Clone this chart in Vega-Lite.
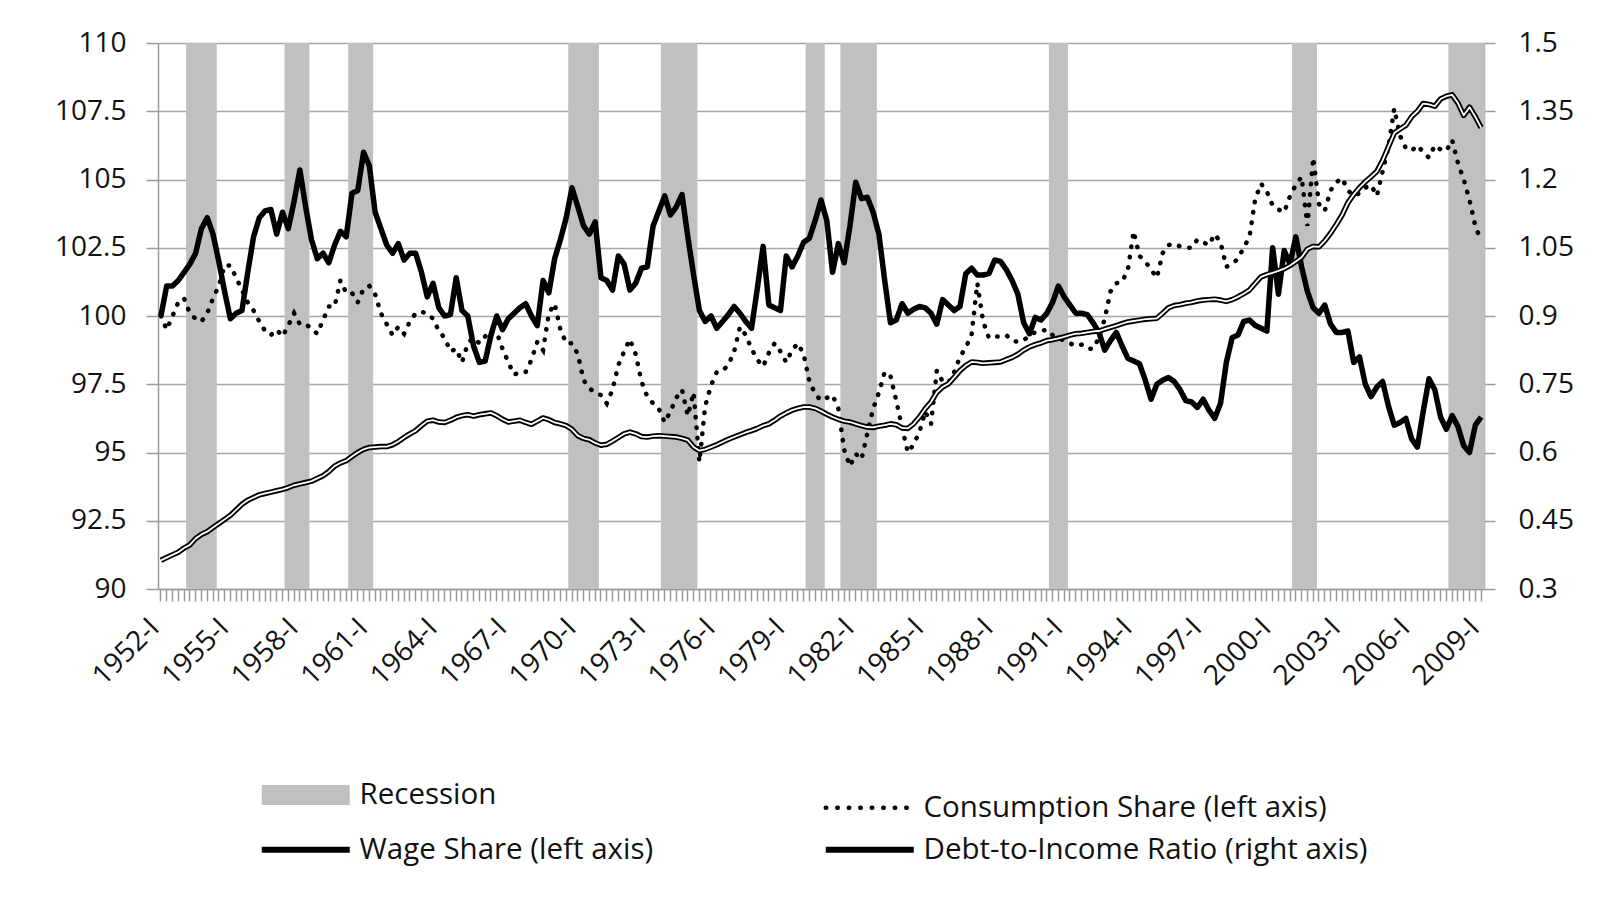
{
  "$schema": "https://vega.github.io/schema/vega-lite/v6.json",
  "width": 1326,
  "height": 546,
  "autosize": {"type": "none"},
  "padding": {"left": 158, "top": 43, "right": 129, "bottom": 311},
  "background": "white",
  "config": {
    "view": {"stroke": null},
    "font": "Open Sans",
    "axis": {"labelFont": "Open Sans", "labelFontSize": 28, "labelColor": "#111111", "domainColor": "#9a9a9a", "tickColor": "#9a9a9a", "gridColor": "#a6a6a6", "domainWidth": 1.5, "tickWidth": 1.5, "gridWidth": 1.5},
    "legend": {"labelFont": "Open Sans", "labelFontSize": 29.5, "labelColor": "#111111"}
  },
  "data": {"values": [
    {"q":"1952-I","w":100.0,"c":100.0,"d":0.363,"r":0},
    {"q":"1952-II","w":101.1,"c":99.5,"d":0.369,"r":0},
    {"q":"1952-III","w":101.1,"c":100.0,"d":0.375,"r":0},
    {"q":"1952-IV","w":101.3,"c":100.5,"d":0.381,"r":0},
    {"q":"1953-I","w":101.6,"c":100.65,"d":0.390,"r":0},
    {"q":"1953-II","w":101.9,"c":100.1,"d":0.397,"r":1},
    {"q":"1953-III","w":102.3,"c":99.9,"d":0.411,"r":1},
    {"q":"1953-IV","w":103.2,"c":99.8,"d":0.420,"r":1},
    {"q":"1954-I","w":103.6,"c":100.1,"d":0.426,"r":1},
    {"q":"1954-II","w":103.0,"c":100.65,"d":0.435,"r":1},
    {"q":"1954-III","w":102.0,"c":101.1,"d":0.444,"r":0},
    {"q":"1954-IV","w":100.9,"c":101.85,"d":0.453,"r":0},
    {"q":"1955-I","w":99.9,"c":101.85,"d":0.462,"r":0},
    {"q":"1955-II","w":100.1,"c":101.4,"d":0.474,"r":0},
    {"q":"1955-III","w":100.2,"c":100.95,"d":0.486,"r":0},
    {"q":"1955-IV","w":101.6,"c":100.5,"d":0.495,"r":0},
    {"q":"1956-I","w":102.9,"c":100.2,"d":0.501,"r":0},
    {"q":"1956-II","w":103.6,"c":99.8,"d":0.507,"r":0},
    {"q":"1956-III","w":103.85,"c":99.45,"d":0.510,"r":0},
    {"q":"1956-IV","w":103.9,"c":99.3,"d":0.513,"r":0},
    {"q":"1957-I","w":103.0,"c":99.5,"d":0.516,"r":0},
    {"q":"1957-II","w":103.8,"c":99.25,"d":0.519,"r":0},
    {"q":"1957-III","w":103.2,"c":99.65,"d":0.523,"r":1},
    {"q":"1957-IV","w":104.2,"c":100.1,"d":0.528,"r":1},
    {"q":"1958-I","w":105.35,"c":99.7,"d":0.531,"r":1},
    {"q":"1958-II","w":104.0,"c":99.7,"d":0.534,"r":1},
    {"q":"1958-III","w":102.8,"c":99.55,"d":0.537,"r":0},
    {"q":"1958-IV","w":102.1,"c":99.35,"d":0.543,"r":0},
    {"q":"1959-I","w":102.3,"c":99.85,"d":0.549,"r":0},
    {"q":"1959-II","w":101.95,"c":100.35,"d":0.558,"r":0},
    {"q":"1959-III","w":102.6,"c":100.35,"d":0.570,"r":0},
    {"q":"1959-IV","w":103.1,"c":101.3,"d":0.577,"r":0},
    {"q":"1960-I","w":102.9,"c":100.85,"d":0.582,"r":0},
    {"q":"1960-II","w":104.5,"c":100.85,"d":0.591,"r":1},
    {"q":"1960-III","w":104.6,"c":100.5,"d":0.600,"r":1},
    {"q":"1960-IV","w":106.0,"c":101.0,"d":0.607,"r":1},
    {"q":"1961-I","w":105.5,"c":101.1,"d":0.611,"r":1},
    {"q":"1961-II","w":103.8,"c":100.8,"d":0.612,"r":0},
    {"q":"1961-III","w":103.2,"c":100.1,"d":0.613,"r":0},
    {"q":"1961-IV","w":102.6,"c":99.7,"d":0.613,"r":0},
    {"q":"1962-I","w":102.3,"c":99.3,"d":0.617,"r":0},
    {"q":"1962-II","w":102.65,"c":99.6,"d":0.624,"r":0},
    {"q":"1962-III","w":102.05,"c":99.35,"d":0.633,"r":0},
    {"q":"1962-IV","w":102.3,"c":99.8,"d":0.641,"r":0},
    {"q":"1963-I","w":102.3,"c":100.1,"d":0.648,"r":0},
    {"q":"1963-II","w":101.6,"c":100.15,"d":0.659,"r":0},
    {"q":"1963-III","w":100.7,"c":100.1,"d":0.669,"r":0},
    {"q":"1963-IV","w":101.2,"c":99.9,"d":0.671,"r":0},
    {"q":"1964-I","w":100.3,"c":99.45,"d":0.667,"r":0},
    {"q":"1964-II","w":100.0,"c":99.2,"d":0.666,"r":0},
    {"q":"1964-III","w":100.05,"c":98.7,"d":0.671,"r":0},
    {"q":"1964-IV","w":101.4,"c":98.8,"d":0.677,"r":0},
    {"q":"1965-I","w":100.2,"c":98.3,"d":0.681,"r":0},
    {"q":"1965-II","w":100.0,"c":99.0,"d":0.683,"r":0},
    {"q":"1965-III","w":98.9,"c":99.2,"d":0.680,"r":0},
    {"q":"1965-IV","w":98.3,"c":99.0,"d":0.683,"r":0},
    {"q":"1966-I","w":98.35,"c":99.25,"d":0.685,"r":0},
    {"q":"1966-II","w":99.3,"c":99.5,"d":0.687,"r":0},
    {"q":"1966-III","w":100.0,"c":99.4,"d":0.681,"r":0},
    {"q":"1966-IV","w":99.5,"c":98.8,"d":0.673,"r":0},
    {"q":"1967-I","w":99.9,"c":98.3,"d":0.667,"r":0},
    {"q":"1967-II","w":100.1,"c":97.85,"d":0.669,"r":0},
    {"q":"1967-III","w":100.3,"c":97.95,"d":0.671,"r":0},
    {"q":"1967-IV","w":100.45,"c":97.95,"d":0.666,"r":0},
    {"q":"1968-I","w":100.0,"c":98.4,"d":0.662,"r":0},
    {"q":"1968-II","w":99.65,"c":99.05,"d":0.669,"r":0},
    {"q":"1968-III","w":101.3,"c":98.75,"d":0.676,"r":0},
    {"q":"1968-IV","w":100.85,"c":100.1,"d":0.672,"r":0},
    {"q":"1969-I","w":102.1,"c":100.45,"d":0.666,"r":0},
    {"q":"1969-II","w":102.8,"c":99.5,"d":0.663,"r":0},
    {"q":"1969-III","w":103.6,"c":99.0,"d":0.659,"r":0},
    {"q":"1969-IV","w":104.7,"c":99.0,"d":0.651,"r":1},
    {"q":"1970-I","w":104.0,"c":98.6,"d":0.637,"r":1},
    {"q":"1970-II","w":103.3,"c":97.65,"d":0.631,"r":1},
    {"q":"1970-III","w":103.0,"c":97.35,"d":0.628,"r":1},
    {"q":"1970-IV","w":103.45,"c":97.2,"d":0.621,"r":1},
    {"q":"1971-I","w":101.4,"c":97.1,"d":0.616,"r":0},
    {"q":"1971-II","w":101.3,"c":96.8,"d":0.618,"r":0},
    {"q":"1971-III","w":100.95,"c":97.3,"d":0.625,"r":0},
    {"q":"1971-IV","w":102.2,"c":98.2,"d":0.633,"r":0},
    {"q":"1972-I","w":101.9,"c":98.7,"d":0.641,"r":0},
    {"q":"1972-II","w":100.95,"c":99.15,"d":0.645,"r":0},
    {"q":"1972-III","w":101.2,"c":98.6,"d":0.641,"r":0},
    {"q":"1972-IV","w":101.75,"c":97.6,"d":0.635,"r":0},
    {"q":"1973-I","w":101.8,"c":97.05,"d":0.634,"r":0},
    {"q":"1973-II","w":103.3,"c":96.8,"d":0.636,"r":0},
    {"q":"1973-III","w":103.85,"c":96.6,"d":0.637,"r":0},
    {"q":"1973-IV","w":104.4,"c":96.1,"d":0.636,"r":1},
    {"q":"1974-I","w":103.7,"c":96.5,"d":0.635,"r":1},
    {"q":"1974-II","w":104.0,"c":97.0,"d":0.634,"r":1},
    {"q":"1974-III","w":104.45,"c":97.3,"d":0.631,"r":1},
    {"q":"1974-IV","w":102.9,"c":96.35,"d":0.627,"r":1},
    {"q":"1975-I","w":101.5,"c":97.2,"d":0.612,"r":1},
    {"q":"1975-II","w":100.2,"c":94.65,"d":0.604,"r":0},
    {"q":"1975-III","w":99.8,"c":96.7,"d":0.607,"r":0},
    {"q":"1975-IV","w":100.0,"c":97.45,"d":0.612,"r":0},
    {"q":"1976-I","w":99.55,"c":97.95,"d":0.617,"r":0},
    {"q":"1976-II","w":99.8,"c":98.0,"d":0.623,"r":0},
    {"q":"1976-III","w":100.05,"c":98.2,"d":0.629,"r":0},
    {"q":"1976-IV","w":100.35,"c":98.7,"d":0.634,"r":0},
    {"q":"1977-I","w":100.1,"c":99.6,"d":0.639,"r":0},
    {"q":"1977-II","w":99.8,"c":99.3,"d":0.644,"r":0},
    {"q":"1977-III","w":99.55,"c":98.8,"d":0.648,"r":0},
    {"q":"1977-IV","w":101.0,"c":98.4,"d":0.653,"r":0},
    {"q":"1978-I","w":102.55,"c":98.15,"d":0.659,"r":0},
    {"q":"1978-II","w":100.4,"c":98.65,"d":0.663,"r":0},
    {"q":"1978-III","w":100.3,"c":99.0,"d":0.671,"r":0},
    {"q":"1978-IV","w":100.2,"c":98.7,"d":0.680,"r":0},
    {"q":"1979-I","w":102.2,"c":98.3,"d":0.687,"r":0},
    {"q":"1979-II","w":101.8,"c":98.75,"d":0.693,"r":0},
    {"q":"1979-III","w":102.2,"c":99.0,"d":0.697,"r":0},
    {"q":"1979-IV","w":102.7,"c":98.6,"d":0.700,"r":0},
    {"q":"1980-I","w":102.85,"c":97.6,"d":0.700,"r":1},
    {"q":"1980-II","w":103.5,"c":97.15,"d":0.697,"r":1},
    {"q":"1980-III","w":104.25,"c":96.9,"d":0.691,"r":1},
    {"q":"1980-IV","w":103.5,"c":97.0,"d":0.684,"r":0},
    {"q":"1981-I","w":101.6,"c":97.1,"d":0.678,"r":0},
    {"q":"1981-II","w":102.65,"c":96.6,"d":0.673,"r":0},
    {"q":"1981-III","w":101.95,"c":95.1,"d":0.669,"r":1},
    {"q":"1981-IV","w":103.3,"c":94.5,"d":0.667,"r":1},
    {"q":"1982-I","w":104.9,"c":94.95,"d":0.663,"r":1},
    {"q":"1982-II","w":104.3,"c":94.75,"d":0.659,"r":1},
    {"q":"1982-III","w":104.35,"c":95.7,"d":0.656,"r":1},
    {"q":"1982-IV","w":103.8,"c":96.6,"d":0.655,"r":1},
    {"q":"1983-I","w":103.0,"c":97.2,"d":0.658,"r":0},
    {"q":"1983-II","w":101.3,"c":97.95,"d":0.660,"r":0},
    {"q":"1983-III","w":99.75,"c":97.8,"d":0.663,"r":0},
    {"q":"1983-IV","w":99.85,"c":96.9,"d":0.661,"r":0},
    {"q":"1984-I","w":100.45,"c":95.9,"d":0.654,"r":0},
    {"q":"1984-II","w":100.1,"c":95.0,"d":0.653,"r":0},
    {"q":"1984-III","w":100.25,"c":95.3,"d":0.663,"r":0},
    {"q":"1984-IV","w":100.35,"c":95.75,"d":0.678,"r":0},
    {"q":"1985-I","w":100.3,"c":96.5,"d":0.696,"r":0},
    {"q":"1985-II","w":100.1,"c":96.05,"d":0.711,"r":0},
    {"q":"1985-III","w":99.7,"c":98.0,"d":0.732,"r":0},
    {"q":"1985-IV","w":100.6,"c":97.6,"d":0.744,"r":0},
    {"q":"1986-I","w":100.4,"c":97.55,"d":0.751,"r":0},
    {"q":"1986-II","w":100.2,"c":97.95,"d":0.765,"r":0},
    {"q":"1986-III","w":100.35,"c":98.5,"d":0.780,"r":0},
    {"q":"1986-IV","w":101.55,"c":98.85,"d":0.791,"r":0},
    {"q":"1987-I","w":101.75,"c":99.3,"d":0.799,"r":0},
    {"q":"1987-II","w":101.5,"c":101.2,"d":0.798,"r":0},
    {"q":"1987-III","w":101.5,"c":99.8,"d":0.796,"r":0},
    {"q":"1987-IV","w":101.55,"c":99.2,"d":0.797,"r":0},
    {"q":"1988-I","w":102.05,"c":99.25,"d":0.798,"r":0},
    {"q":"1988-II","w":102.0,"c":99.25,"d":0.799,"r":0},
    {"q":"1988-III","w":101.7,"c":99.3,"d":0.804,"r":0},
    {"q":"1988-IV","w":101.3,"c":99.1,"d":0.809,"r":0},
    {"q":"1989-I","w":100.8,"c":99.05,"d":0.816,"r":0},
    {"q":"1989-II","w":99.75,"c":99.1,"d":0.825,"r":0},
    {"q":"1989-III","w":99.35,"c":99.3,"d":0.832,"r":0},
    {"q":"1989-IV","w":99.95,"c":99.4,"d":0.837,"r":0},
    {"q":"1990-I","w":99.85,"c":99.45,"d":0.841,"r":0},
    {"q":"1990-II","w":100.1,"c":99.5,"d":0.846,"r":0},
    {"q":"1990-III","w":100.5,"c":99.3,"d":0.848,"r":1},
    {"q":"1990-IV","w":101.1,"c":99.2,"d":0.851,"r":1},
    {"q":"1991-I","w":100.7,"c":99.1,"d":0.854,"r":1},
    {"q":"1991-II","w":100.4,"c":99.0,"d":0.858,"r":0},
    {"q":"1991-III","w":100.1,"c":98.9,"d":0.861,"r":0},
    {"q":"1991-IV","w":100.1,"c":98.95,"d":0.862,"r":0},
    {"q":"1992-I","w":100.05,"c":98.8,"d":0.864,"r":0},
    {"q":"1992-II","w":99.75,"c":98.8,"d":0.866,"r":0},
    {"q":"1992-III","w":99.4,"c":99.2,"d":0.867,"r":0},
    {"q":"1992-IV","w":98.75,"c":99.9,"d":0.871,"r":0},
    {"q":"1993-I","w":99.1,"c":100.9,"d":0.875,"r":0},
    {"q":"1993-II","w":99.4,"c":101.2,"d":0.879,"r":0},
    {"q":"1993-III","w":98.9,"c":101.25,"d":0.883,"r":0},
    {"q":"1993-IV","w":98.45,"c":101.7,"d":0.887,"r":0},
    {"q":"1994-I","w":98.35,"c":103.1,"d":0.889,"r":0},
    {"q":"1994-II","w":98.25,"c":102.2,"d":0.891,"r":0},
    {"q":"1994-III","w":97.65,"c":102.0,"d":0.893,"r":0},
    {"q":"1994-IV","w":96.95,"c":101.7,"d":0.894,"r":0},
    {"q":"1995-I","w":97.5,"c":101.4,"d":0.895,"r":0},
    {"q":"1995-II","w":97.65,"c":102.3,"d":0.906,"r":0},
    {"q":"1995-III","w":97.75,"c":102.6,"d":0.918,"r":0},
    {"q":"1995-IV","w":97.6,"c":102.65,"d":0.923,"r":0},
    {"q":"1996-I","w":97.3,"c":102.55,"d":0.925,"r":0},
    {"q":"1996-II","w":96.9,"c":102.5,"d":0.928,"r":0},
    {"q":"1996-III","w":96.85,"c":102.5,"d":0.930,"r":0},
    {"q":"1996-IV","w":96.65,"c":102.8,"d":0.933,"r":0},
    {"q":"1997-I","w":96.95,"c":102.7,"d":0.935,"r":0},
    {"q":"1997-II","w":96.55,"c":102.6,"d":0.936,"r":0},
    {"q":"1997-III","w":96.25,"c":103.0,"d":0.937,"r":0},
    {"q":"1997-IV","w":96.8,"c":102.7,"d":0.935,"r":0},
    {"q":"1998-I","w":98.3,"c":101.8,"d":0.932,"r":0},
    {"q":"1998-II","w":99.2,"c":101.9,"d":0.936,"r":0},
    {"q":"1998-III","w":99.3,"c":102.1,"d":0.942,"r":0},
    {"q":"1998-IV","w":99.8,"c":102.5,"d":0.949,"r":0},
    {"q":"1999-I","w":99.85,"c":102.9,"d":0.957,"r":0},
    {"q":"1999-II","w":99.65,"c":104.3,"d":0.972,"r":0},
    {"q":"1999-III","w":99.55,"c":104.85,"d":0.986,"r":0},
    {"q":"1999-IV","w":99.45,"c":104.55,"d":0.991,"r":0},
    {"q":"2000-I","w":102.5,"c":104.05,"d":0.995,"r":0},
    {"q":"2000-II","w":100.8,"c":103.9,"d":0.999,"r":0},
    {"q":"2000-III","w":102.4,"c":103.8,"d":1.004,"r":0},
    {"q":"2000-IV","w":101.9,"c":104.4,"d":1.011,"r":0},
    {"q":"2001-I","w":102.9,"c":104.8,"d":1.020,"r":1},
    {"q":"2001-II","w":101.8,"c":105.1,"d":1.029,"r":1},
    {"q":"2001-III","w":100.9,"c":103.3,"d":1.047,"r":1},
    {"q":"2001-IV","w":100.3,"c":105.8,"d":1.053,"r":1},
    {"q":"2002-I","w":100.1,"c":104.1,"d":1.052,"r":0},
    {"q":"2002-II","w":100.4,"c":103.85,"d":1.065,"r":0},
    {"q":"2002-III","w":99.7,"c":104.6,"d":1.082,"r":0},
    {"q":"2002-IV","w":99.4,"c":104.9,"d":1.101,"r":0},
    {"q":"2003-I","w":99.4,"c":105.05,"d":1.122,"r":0},
    {"q":"2003-II","w":99.45,"c":104.6,"d":1.149,"r":0},
    {"q":"2003-III","w":98.3,"c":104.4,"d":1.167,"r":0},
    {"q":"2003-IV","w":98.5,"c":104.5,"d":1.182,"r":0},
    {"q":"2004-I","w":97.5,"c":104.7,"d":1.195,"r":0},
    {"q":"2004-II","w":97.05,"c":104.8,"d":1.206,"r":0},
    {"q":"2004-III","w":97.4,"c":104.4,"d":1.218,"r":0},
    {"q":"2004-IV","w":97.6,"c":105.3,"d":1.242,"r":0},
    {"q":"2005-I","w":96.7,"c":106.2,"d":1.272,"r":0},
    {"q":"2005-II","w":96.0,"c":107.6,"d":1.302,"r":0},
    {"q":"2005-III","w":96.1,"c":106.6,"d":1.311,"r":0},
    {"q":"2005-IV","w":96.25,"c":106.15,"d":1.319,"r":0},
    {"q":"2006-I","w":95.5,"c":106.05,"d":1.338,"r":0},
    {"q":"2006-II","w":95.2,"c":106.25,"d":1.350,"r":0},
    {"q":"2006-III","w":96.5,"c":106.0,"d":1.367,"r":0},
    {"q":"2006-IV","w":97.7,"c":105.8,"d":1.365,"r":0},
    {"q":"2007-I","w":97.3,"c":106.25,"d":1.361,"r":0},
    {"q":"2007-II","w":96.3,"c":106.1,"d":1.377,"r":0},
    {"q":"2007-III","w":95.85,"c":106.05,"d":1.383,"r":0},
    {"q":"2007-IV","w":96.35,"c":106.45,"d":1.386,"r":1},
    {"q":"2008-I","w":95.95,"c":105.6,"d":1.368,"r":1},
    {"q":"2008-II","w":95.25,"c":105.0,"d":1.341,"r":1},
    {"q":"2008-III","w":95.0,"c":104.25,"d":1.359,"r":1},
    {"q":"2008-IV","w":96.0,"c":103.3,"d":1.338,"r":1},
    {"q":"2009-I","w":96.3,"c":102.75,"d":1.314,"r":1}
  ]},
  "layer": [
    {
      "mark": {"type": "bar", "color": "#c0c0c0", "width": {"band": 1.3}},
      "encoding": {
        "x": {"field": "q", "type": "ordinal", "sort": null, "scale": {"type": "band", "paddingInner": 0, "paddingOuter": 0},
              "axis": {"orient": "bottom", "grid": false, "tickSize": 12, "title": null, "labelAngle": -45, "labelAlign": "right", "labelBaseline": "alphabetic", "labelPadding": 28, "labelOverlap": false, "labelBound": false,
                       "labelExpr": "((+slice(datum.value,0,4) - 1952) % 3 == 0 && slice(datum.value,4) == '-I') ? datum.value : ''"}},
        "y": {"field": "r", "type": "quantitative", "scale": {"domain": [0, 1], "nice": false}, "axis": null},
        "color": {"datum": "Recession", "type": "nominal",
          "scale": {"domain": ["Recession", "Wage Share (left axis)", "Consumption Share (left axis)", "Debt-to-Income Ratio (right axis)"], "range": ["#c0c0c0", "#000000", "#000000", "#000000"]},
          "legend": {
            "title": null, "orient": "none", "legendX": 133, "legendY": 737, "columns": 2,
            "columnPadding": 159, "rowPadding": -14, "labelOffset": 39, "symbolType": "stroke", "symbolSize": 7744,
            "labelFontSize": 29.5, "labelLimit": 0,
            "encode": {"symbols": {"update": {
              "stroke": {"signal": "datum.value === 'Recession' ? '#c0c0c0' : '#000000'"},
              "strokeWidth": {"signal": "datum.value === 'Recession' ? 20 : (datum.value === 'Consumption Share (left axis)' ? 4.5 : 6)"},
              "strokeDash": {"signal": "datum.value === 'Consumption Share (left axis)' ? [0.5, 11] : [1, 0]"},
              "strokeCap": {"signal": "datum.value === 'Consumption Share (left axis)' ? 'round' : 'butt'"}
            }}}
          }
        }
      }
    },
    {
      "mark": {"type": "line", "strokeWidth": 4.5, "strokeDash": [0.5, 10], "strokeCap": "round"},
      "encoding": {
        "x": {"field": "q", "type": "ordinal", "sort": null},
        "y": {"field": "c", "type": "quantitative", "scale": {"domain": [90, 110], "nice": false, "zero": false}, "axis": null},
        "color": {"datum": "Consumption Share (left axis)", "type": "nominal"}
      }
    },
    {
      "mark": {"type": "line", "strokeWidth": 5.5, "strokeJoin": "round"},
      "encoding": {
        "x": {"field": "q", "type": "ordinal", "sort": null},
        "y": {"field": "w", "type": "quantitative", "scale": {"domain": [90, 110], "nice": false, "zero": false},
              "axis": {"orient": "left", "values": [90, 92.5, 95, 97.5, 100, 102.5, 105, 107.5, 110], "format": ".1~f", "grid": true, "tickSize": 12, "labelPadding": 20, "title": null}},
        "color": {"datum": "Wage Share (left axis)", "type": "nominal"}
      }
    },
    {
      "mark": {"type": "line", "strokeWidth": 5.5, "strokeJoin": "round"},
      "encoding": {
        "x": {"field": "q", "type": "ordinal", "sort": null},
        "y": {"field": "d", "type": "quantitative", "scale": {"domain": [0.3, 1.5], "nice": false, "zero": false},
              "axis": {"orient": "right", "values": [0.3, 0.45, 0.6, 0.75, 0.9, 1.05, 1.2, 1.35, 1.5], "format": ".2~f", "grid": false, "tickSize": 11, "labelPadding": 23, "title": null}},
        "color": {"datum": "Debt-to-Income Ratio (right axis)", "type": "nominal"}
      }
    },
    {
      "mark": {"type": "line", "strokeWidth": 1.8, "color": "#ffffff", "strokeJoin": "round"},
      "encoding": {
        "x": {"field": "q", "type": "ordinal", "sort": null},
        "y": {"field": "d", "type": "quantitative", "scale": {"domain": [0.3, 1.5], "nice": false, "zero": false}, "axis": null}
      }
    }
  ],
  "resolve": {"scale": {"y": "independent"}}
}
